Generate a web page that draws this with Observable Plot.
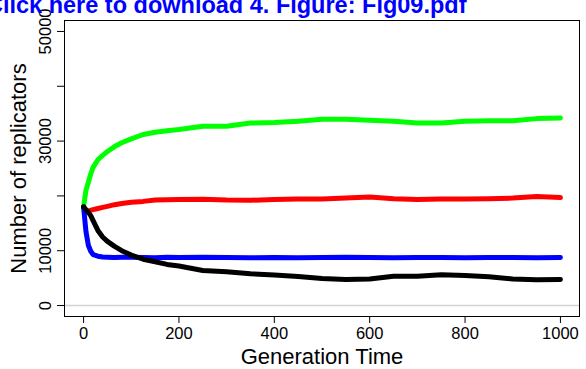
<!DOCTYPE html>
<html>
<head>
<meta charset="utf-8">
<script src="https://cdn.jsdelivr.net/npm/d3@7"></script>
<script src="https://cdn.jsdelivr.net/npm/@observablehq/plot@0.6"></script>
<style>
  html, body { margin: 0; padding: 0; background: #fff; overflow: hidden; }
  #wrap { position: relative; width: 586px; height: 369px; }
  #title { position: absolute; left: -14px; top: -6px; font: bold 23.5px/1 "Liberation Sans", Arial, sans-serif; color: #0000ff; white-space: nowrap; z-index: 2; }
</style>
</head>
<body>
<div id="wrap">
  <div id="title">Click here to download 4. Figure: Fig09.pdf</div>
</div>
<script>
const titleText = "Click here to download 4. Figure: Fig09.pdf";
const xLabel = "Generation Time";
const yLabel = "Number of replicators";
const xTicks = [0, 200, 400, 600, 800, 1000];
const yTicks = [0, 10000, 20000, 30000, 40000, 50000];
const yTickLabels = [0, 10000, 30000, 50000];

const time  = [0, 5, 10, 15, 20, 30, 40, 50, 65, 80, 100, 125, 150, 175, 200, 250, 300, 350, 400, 450, 500, 550, 600, 650, 700, 750, 800, 850, 900, 950, 1000];
const green = [18000, 21000, 22500, 24000, 25200, 26600, 27400, 28100, 29000, 29700, 30400, 31200, 31600, 31900, 32100, 32700, 32700, 33300, 33400, 33600, 34000, 34000, 33800, 33600, 33300, 33300, 33600, 33700, 33700, 34100, 34200];
const red   = [18000, 17300, 17200, 17400, 17500, 17700, 17900, 18100, 18400, 18600, 18850, 19000, 19250, 19300, 19350, 19400, 19250, 19200, 19350, 19450, 19450, 19600, 19800, 19500, 19350, 19450, 19450, 19500, 19600, 19900, 19700];
const blue  = [18000, 13500, 11000, 9900, 9300, 9000, 8850, 8800, 8750, 8800, 8800, 8750, 8700, 8800, 8750, 8800, 8750, 8700, 8750, 8700, 8750, 8800, 8750, 8700, 8750, 8750, 8700, 8750, 8750, 8700, 8750];
const black = [18000, 17500, 17000, 16400, 15500, 13700, 12500, 11700, 10800, 10000, 9200, 8450, 8000, 7500, 7200, 6400, 6150, 5800, 5550, 5300, 4950, 4750, 4850, 5350, 5350, 5600, 5500, 5250, 4850, 4700, 4750];

const seriesNames = ["green", "red", "blue", "black"];
const seriesColors = ["#00ff00", "#ff0000", "#0000ff", "#000000"];
const seriesValues = [green, red, blue, black];

const font = '"Liberation Sans", Arial, Helvetica, sans-serif';

const marks = [
  Plot.ruleY([0], {stroke: "#d3d3d3", strokeWidth: 1.5}),
  Plot.frame({stroke: "#000", strokeWidth: 1}),
  Plot.axisX({ticks: xTicks, tickSize: 7, tickPadding: 4, fontSize: 16.5, label: null, tickFormat: d => String(d)}),
  Plot.axisY({ticks: yTicks, tickSize: 7, label: null, tickFormat: () => ""}),
  Plot.text(yTickLabels, {y: d => d, text: d => String(d), frameAnchor: "left", textAnchor: "middle", lineAnchor: "middle", rotate: -90, dx: -19, fontSize: 16.5}),
  Plot.text([xLabel], {frameAnchor: "bottom", textAnchor: "middle", lineAnchor: "middle", dy: 40, fontSize: 22, text: d => d}),
  Plot.text([yLabel], {frameAnchor: "left", textAnchor: "middle", lineAnchor: "middle", rotate: -90, dx: -46, fontSize: 22, text: d => d})
];
seriesValues.forEach((vals, i) => {
  const rows = time.map((t, j) => ({t, v: vals[j]}));
  marks.push(Plot.line(rows, {x: "t", y: "v", stroke: seriesColors[i], strokeWidth: 5, strokeLinecap: "round", strokeLinejoin: "round"}));
});

const chart = Plot.plot({
  width: 586,
  height: 369,
  marginLeft: 64,
  marginRight: 7,
  marginTop: 20,
  marginBottom: 53,
  style: {fontFamily: font, fontSize: "16.5px", color: "#000", background: "#fff"},
  x: {domain: [-40, 1040]},
  y: {domain: [-2000, 52000]},
  marks
});
document.getElementById("wrap").appendChild(chart);
document.getElementById("title").textContent = titleText;
</script>
</body>
</html>
